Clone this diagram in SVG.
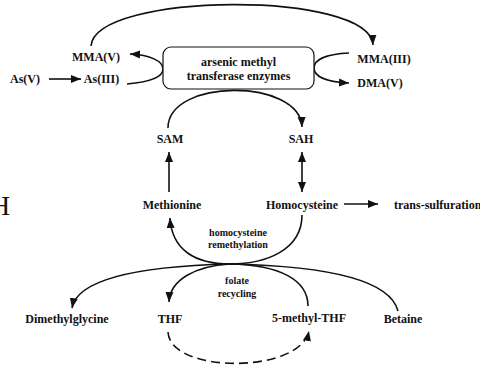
<svg xmlns="http://www.w3.org/2000/svg" width="480" height="370" viewBox="0 0 480 370">
<style>
.t{font-family:"Liberation Serif","Times New Roman",serif;font-weight:bold;font-size:12px;fill:#111;text-anchor:middle}
.s{font-size:10px}
.c{fill:none;stroke:#111;stroke-width:1.6}
.d{stroke-dasharray:9 5}
</style>
<defs>
<marker id="ah" viewBox="0 0 10 10" refX="10" refY="5" markerWidth="10" markerHeight="10" markerUnits="userSpaceOnUse" orient="auto-start-reverse">
<path d="M0,1 L10,5 L0,9 z" fill="#111"/>
</marker>
</defs>
<rect width="480" height="370" fill="#fff"/>
<text x="-10" y="215" font-family="Liberation Serif, serif" font-size="28" fill="#111">H</text>
<g id="connectors">
<path class="c" d="M91,46 C95,-8 370,-10 373,45" marker-end="url(#ah)"/>
<path class="c" d="M49,79 L81,79" marker-end="url(#ah)"/>
<path class="c" d="M127,84 C150,82 163,77 163,69 C163,61 150,55 130,54" marker-end="url(#ah)"/>
<path class="c" d="M349,53 C328,54 314,59 314,68 C314,77 328,82 349,83" marker-end="url(#ah)"/>
<path class="c" d="M168,128 C168,78 300,78 302,127" marker-end="url(#ah)"/>
<path class="c" d="M169,192 L169,152" marker-end="url(#ah)"/>
<path class="c" d="M302,152 L302,192" marker-start="url(#ah)" marker-end="url(#ah)"/>
<path class="c" d="M344,204 L378,204" marker-end="url(#ah)"/>
<path class="c" d="M302,215 C302,250 266,264 230,264"/>
<path class="c" d="M230,264 C195,264 172,250 170,218" marker-end="url(#ah)"/>
<path class="c" d="M230,264 C150,266 78,276 72,308" marker-end="url(#ah)"/>
<path class="c" d="M230,264 C195,266 170,280 169,302" marker-end="url(#ah)"/>
<path class="c" d="M308,306 C308,280 280,265 230,264"/>
<path class="c" d="M398,311 C390,280 330,266 230,264"/>
<path class="c d" d="M168,332 C170,374 300,374 309,331" marker-end="url(#ah)"/>
</g>
<g id="enzymes">
<rect x="163" y="47" width="151" height="42" rx="8" fill="#fff" stroke="#111" stroke-width="1.2"/>
<text class="t" x="238.5" y="66">arsenic methyl</text>
<text class="t" x="238.5" y="80">transferase enzymes</text>
</g>
<g id="asv"><text class="t" x="25" y="83">As(V)</text></g>
<g id="asiii"><text class="t" x="101.5" y="83">As(III)</text></g>
<g id="mmav"><text class="t" x="96" y="61">MMA(V)</text></g>
<g id="mmaiii"><text class="t" x="384" y="63">MMA(III)</text></g>
<g id="dmav"><text class="t" x="380" y="87">DMA(V)</text></g>
<g id="sam"><text class="t" x="170" y="143">SAM</text></g>
<g id="sah"><text class="t" x="301" y="143">SAH</text></g>
<g id="methionine"><text class="t" x="172" y="209">Methionine</text></g>
<g id="homocysteine"><text class="t" x="302" y="209">Homocysteine</text></g>
<g id="transsulfuration"><text class="t" x="394" y="209" style="text-anchor:start">trans-sulfuration</text></g>
<g id="remethylation"><text class="t s" x="238" y="236">homocysteine</text><text class="t s" x="238" y="248">remethylation</text></g>
<g id="folate"><text class="t s" x="237" y="284">folate</text><text class="t s" x="237" y="297">recycling</text></g>
<g id="dimethylglycine"><text class="t" x="67" y="323">Dimethylglycine</text></g>
<g id="thf"><text class="t" x="170" y="323">THF</text></g>
<g id="methylthf"><text class="t" x="309" y="322">5-methyl-THF</text></g>
<g id="betaine"><text class="t" x="403" y="323">Betaine</text></g>
</svg>
